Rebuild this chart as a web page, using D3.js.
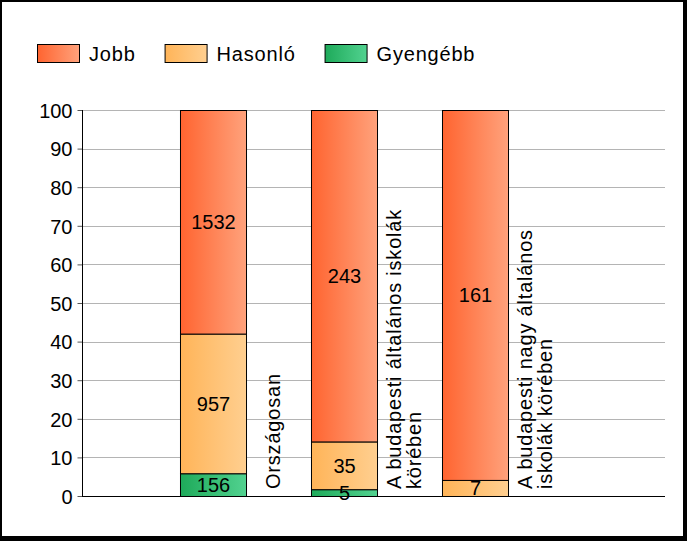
<!DOCTYPE html>
<html>
<head>
<meta charset="utf-8">
<script src="https://cdn.jsdelivr.net/npm/d3@7"></script>
<style>
  html, body { margin: 0; padding: 0; background: #fff; }
  svg { display: block; }
  text { font-family: "Liberation Sans", Arial, sans-serif; fill: #000; }
</style>
</head>
<body>
<svg id="chart" width="687" height="541"></svg>
<script>
// ---- data ----
const categories = ["Országosan", "A budapesti általános iskolák\nkörében", "A budapesti nagy általános\niskolák körében"];
const seriesNames = ["Gyengébb", "Hasonló", "Jobb"];
const gyengebb = [156, 5, 0];
const hasonlo = [957, 35, 7];
const jobb = [1532, 243, 161];
const yTicks = [0, 10, 20, 30, 40, 50, 60, 70, 80, 90, 100];
const legendOrder = ["Jobb", "Hasonló", "Gyengébb"];

// ---- build table ----
const seriesValues = { "Gyengébb": gyengebb, "Hasonló": hasonlo, "Jobb": jobb };
const table = categories.map((c, i) => {
  const row = { cat: c };
  const total = seriesNames.reduce((s, k) => s + seriesValues[k][i], 0);
  seriesNames.forEach(k => { row[k] = seriesValues[k][i] / total * 100; row[k + "_n"] = seriesValues[k][i]; });
  return row;
});
const stacked = d3.stack().keys(seriesNames)(table);

const svg = d3.select("#chart");
const defs = svg.append("defs");
const gradColors = {
  "Jobb": ["#ff6430", "#ffa27c"],
  "Hasonló": ["#ffb458", "#ffcf90"],
  "Gyengébb": ["#1eaa5a", "#52d290"]
};
Object.entries(gradColors).forEach(([k, c], idx) => {
  const g = defs.append("linearGradient").attr("id", "g" + idx).attr("x1", "0%").attr("x2", "100%").attr("y1", "0%").attr("y2", "0%");
  g.append("stop").attr("offset", "0%").attr("stop-color", c[0]);
  g.append("stop").attr("offset", "100%").attr("stop-color", c[1]);
});
const gradId = k => "url(#g" + Object.keys(gradColors).indexOf(k) + ")";

// frame
svg.append("rect").attr("x", 0).attr("y", 0).attr("width", 687).attr("height", 541).attr("fill", "#000");
svg.append("rect").attr("x", 2).attr("y", 2).attr("width", 681).attr("height", 534).attr("fill", "#fff");

// scales
const y = d3.scaleLinear().domain([0, 100]).range([496, 110]);
const x = d3.scaleBand().domain(categories).range([147.5, 540.5]).paddingInner(0.496).paddingOuter(0.248);
const plotLeft = 82, plotRight = 665;

// gridlines
svg.append("g").selectAll("line").data(yTicks.filter(t => t > 0)).join("line")
  .attr("x1", plotLeft).attr("x2", plotRight)
  .attr("y1", d => Math.round(y(d)) + 0.5).attr("y2", d => Math.round(y(d)) + 0.5)
  .attr("stroke", "#b4b4b4").attr("stroke-width", 1);

// y axis
const yAxis = d3.axisLeft(y).tickValues(yTicks).tickSize(5).tickPadding(5).tickFormat(d3.format("d"));
const ya = svg.append("g").attr("transform", `translate(${plotLeft + 0.5},0)`).call(yAxis);
ya.select(".domain").remove();
ya.selectAll(".tick line").attr("stroke", "#555");
ya.selectAll(".tick text").style("font-size", "20px").attr("fill", "#000").attr("dy", "0.36em")
  .style("font-family", '"Liberation Sans", Arial, sans-serif');
svg.append("line").attr("x1", plotLeft + 0.5).attr("x2", plotLeft + 0.5).attr("y1", y(100)).attr("y2", y(0) + 1).attr("stroke", "#000");

// bars
stacked.forEach(s => {
  const key = s.key;
  svg.append("g").selectAll("rect").data(s.filter(d => d[1] - d[0] > 0)).join("rect")
    .attr("x", d => x(d.data.cat) + 0.5)
    .attr("y", d => y(d[1]) + 0.5)
    .attr("width", x.bandwidth())
    .attr("height", d => y(d[0]) - y(d[1]))
    .attr("fill", gradId(key))
    .attr("stroke", "#000").attr("stroke-width", 1);
});

// x axis line
svg.append("line").attr("x1", plotLeft).attr("x2", plotRight).attr("y1", y(0) + 0.5).attr("y2", y(0) + 0.5).attr("stroke", "#000");

// value labels
stacked.forEach(s => {
  const key = s.key;
  svg.append("g").selectAll("text").data(s.filter(d => d.data[key + "_n"] > 0)).join("text")
    .attr("x", d => x(d.data.cat) + x.bandwidth() / 2 + 0.5)
    .attr("y", d => (y(d[0]) + y(d[1])) / 2)
    .attr("dy", "0.36em")
    .attr("text-anchor", "middle")
    .style("font-size", "20px")
    .text(d => d.data[key + "_n"]);
});

// category labels (rotated, right of bar)
const lh = 20;
categories.forEach(c => {
  const lines = c.split("\n");
  const cx = x(c) + x.bandwidth() + 26;
  const g = svg.append("g").attr("transform", `translate(${cx},489) rotate(-90)`);
  lines.forEach((ln, i) => {
    g.append("text").attr("x", 0).attr("y", (i - (lines.length - 1) / 2) * lh + 8)
      .style("font-size", "20px").style("letter-spacing", "0.8px").text(ln);
  });
});

// legend
let lx = 37;
legendOrder.forEach(k => {
  svg.append("rect").attr("x", lx + 0.5).attr("y", 44.5).attr("width", 42).attr("height", 18)
    .attr("fill", gradId(k)).attr("stroke", "#000");
  const t = svg.append("text").attr("x", lx + 52).attr("y", 61).style("font-size", "20px")
    .style("letter-spacing", "0.8px").text(k);
  const w = t.node().getComputedTextLength();
  lx = lx + 52 + w + 29;
});
</script>
</body>
</html>
